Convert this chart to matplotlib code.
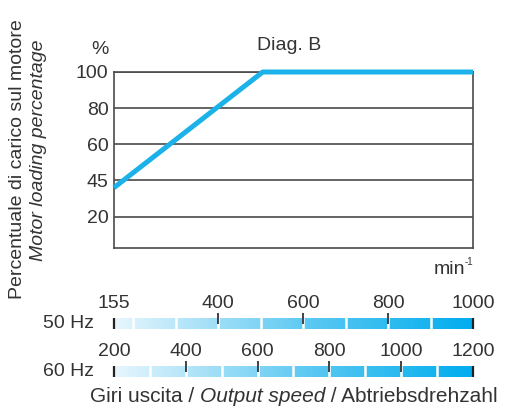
import numpy as np
import matplotlib
matplotlib.use("Agg")
from matplotlib import pyplot as plt
from matplotlib.colors import LinearSegmentedColormap

plt.rcParams['font.family'] = ['Liberation Sans', 'DejaVu Sans']

# data
loadLevels = [20, 45, 60, 80, 100]          # gridline values (equally spaced on the chart)
speed50 = [155, 505, 1000]                   # output speed at 50 Hz, min^-1
loadPct = [40, 100, 100]                     # motor loading, %
ticks50 = [155, 400, 600, 800, 1000]
ticks60 = [200, 400, 600, 800, 1000, 1200]
steps50 = [200, 300, 400, 500, 600, 700, 800, 900]
steps60 = [300, 400, 500, 600, 700, 800, 900, 1000, 1100]

W, H = 506, 407
FS = 14
GREY = '#4a4a4a'
TXT = '#333333'
BLUE = '#1ab2e8'


def box(x0, y0, x1, y1):
    # pixel box (top-left origin) -> figure fraction rect
    return [x0 / W, 1 - y1 / H, (x1 - x0) / W, (y1 - y0) / H]


def px(x, y):
    return x / W, 1 - y / H


fig = plt.figure(figsize=(W / 100, H / 100), dpi=100)

# main chart
ax = fig.add_axes(box(114, 72, 473, 248))
ax.set_xlim(speed50[0], ticks50[-1])
ax.set_ylim(-0.87, len(loadLevels) - 1)
pos = np.arange(len(loadLevels))
for p in pos:
    ax.axhline(p, color=GREY, lw=1.2, zorder=1)
for s in ax.spines.values():
    s.set_color(GREY)
    s.set_linewidth(1.2)
ax.set_xticks([])
ax.set_yticks(pos)
ax.set_yticklabels([str(v) for v in loadLevels], fontsize=FS, color=TXT)
ax.tick_params(axis='y', length=0, pad=4)
yLine = np.interp(loadPct, loadLevels, pos)
ax.plot(speed50, yLine, color=BLUE, lw=3.6, clip_on=False, solid_capstyle='butt', zorder=3)

fig.text(*px(100, 49), '%', fontsize=FS, ha='center', va='center', color=TXT)
fig.text(*px(289, 45), 'Diag. B', fontsize=FS, ha='center', va='center', color=TXT)
fig.text(*px(465, 274), 'min', fontsize=FS, ha='right', va='baseline', color=TXT)
fig.text(*px(465, 257), '-1', fontsize=7, ha='left', va='top', color=TXT)

fig.text(*px(18, 159), 'Percentuale di carico sul motore', fontsize=FS, rotation=90,
         ha='center', va='center', color=TXT)
fig.text(*px(39, 150), 'Motor loading percentage', fontsize=FS, rotation=90,
         ha='center', va='center', style='italic', color=TXT)

# speed scales
cmap = LinearSegmentedColormap.from_list(
    'speed', [(0, '#e8f6fd'), (0.55, '#5ac8f2'), (1, '#00adee')])


def speedBar(rect, ticks, steps, label, labelY):
    bx = fig.add_axes(rect)
    bx.set_xlim(ticks[0], ticks[-1])
    bx.set_ylim(0, 1)
    bx.axis('off')
    grad = np.linspace(0, 1, 256).reshape(1, -1)
    bx.imshow(grad, cmap=cmap, aspect='auto', extent=[ticks[0], ticks[-1], 0, 1])
    for s in steps:
        bx.axvline(s, color='white', lw=1.8)
    bx.vlines([ticks[0], ticks[-1]], 0, 1, color='#222222', lw=1.6, clip_on=False)
    bx.vlines(ticks[1:-1], 0.5, 1.45, color='#222222', lw=1.2, clip_on=False)
    for t in ticks:
        bx.annotate(str(t), xy=(t, 1), xytext=(0, 14), textcoords='offset pixels',
                    ha='center', va='center', fontsize=FS, color=TXT)
    fig.text(*px(94, labelY), label, fontsize=FS, ha='right', va='center', color=TXT)


speedBar(box(114, 318, 473, 329), ticks50, steps50, '50 Hz', 323)
speedBar(box(114, 366, 473, 377), ticks60, steps60, '60 Hz', 371)

# bottom caption in three pieces (middle one italic)
FSB = 15
t1 = fig.text(*px(90, 402), 'Giri uscita / ', fontsize=FSB, va='baseline', color=TXT)
t2 = fig.text(0, 0, 'Output speed', fontsize=FSB, style='italic', color=TXT)
t2.remove()
a2 = ax.annotate('Output speed', xy=(1, 0), xycoords=t1, ha='left', va='bottom',
                 fontsize=FSB, style='italic', color=TXT, annotation_clip=False)
ax.annotate(' / Abtriebsdrehzahl', xy=(1, 0), xycoords=a2, ha='left', va='bottom',
            fontsize=FSB, color=TXT, annotation_clip=False)

fig.savefig('out.png', dpi=100)
